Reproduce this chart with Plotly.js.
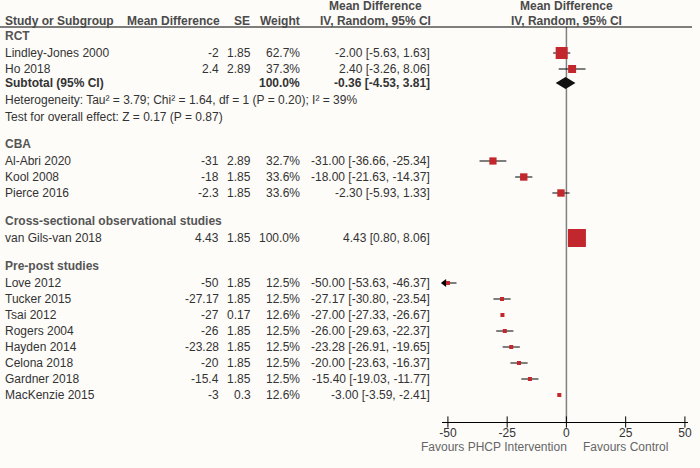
<!DOCTYPE html>
<html><head><meta charset="utf-8">
<script src="https://cdn.plot.ly/plotly-3.0.1.min.js"></script>
<style>html,body{margin:0;padding:0;background:#fdfcf9}#chart{width:700px;height:468px}</style>
</head><body><div id="chart"></div>
<script>
// ---------- data ----------
const groups = ['RCT', 'CBA', 'Cross-sectional observational studies', 'Pre-post studies'];
const studies = ['Lindley-Jones 2000', 'Ho 2018', 'Al-Abri 2020', 'Kool 2008', 'Pierce 2016',
  'van Gils-van 2018', 'Love 2012', 'Tucker 2015', 'Tsai 2012', 'Rogers 2004', 'Hayden 2014',
  'Celona 2018', 'Gardner 2018', 'MacKenzie 2015'];
const studyGroup = ['RCT', 'RCT', 'CBA', 'CBA', 'CBA', 'Cross-sectional observational studies',
  'Pre-post studies', 'Pre-post studies', 'Pre-post studies', 'Pre-post studies',
  'Pre-post studies', 'Pre-post studies', 'Pre-post studies', 'Pre-post studies'];
const meanDiff = [-2, 2.4, -31, -18, -2.3, 4.43, -50, -27.17, -27, -26, -23.28, -20, -15.4, -3];
const se = [1.85, 2.89, 2.89, 1.85, 1.85, 1.85, 1.85, 1.85, 0.17, 1.85, 1.85, 1.85, 1.85, 0.3];
const weight = [62.7, 37.3, 32.7, 33.6, 33.6, 100.0, 12.5, 12.5, 12.6, 12.5, 12.5, 12.5, 12.5, 12.6];
const ciLow = [-5.63, -3.26, -36.66, -21.63, -5.93, 0.80, -53.63, -30.80, -27.33, -29.63, -26.91, -23.63, -19.03, -3.59];
const ciHigh = [1.63, 8.06, -25.34, -14.37, 1.33, 8.06, -46.37, -23.54, -26.67, -22.37, -19.65, -16.37, -11.77, -2.41];
const subtotalGroup = 'RCT';
const subtotalEst = -0.36;
const subtotalLow = -4.53;
const subtotalHigh = 3.81;
const subtotalWeight = 100.0;
const heterogeneityText = 'Heterogeneity: Tau² = 3.79; Chi² = 1.64, df = 1 (P = 0.20); I² = 39%';
const overallEffectText = 'Test for overall effect: Z = 0.17 (P = 0.87)';
const tickVals = [-50, -25, 0, 25, 50];
const tickLabels = ['-50', '-25', '0', '25', '50'];
const favoursLeft = 'Favours PHCP Intervention';
const favoursRight = 'Favours Control';

// ---------- layout helpers ----------
const W = 700, H = 468;
const FONT = 'Arial, "Liberation Sans", sans-serif';
const AX_Y = 422;
const X_MIN = -52.5, X_MAX = 51.3;
const DOM = [442 / W, 688 / W];
const TXT = '#333', HEAD = '#4a4a4a', SEC = '#555';
const annotations = [];
function txt(text, xpx, y, anchor, color, ref) {
  annotations.push({
    text: text, x: ref === 'x' ? xpx : xpx / W, xref: ref === 'x' ? 'x' : 'paper',
    y: y, yref: 'y', xanchor: anchor, yanchor: 'middle', showarrow: false,
    font: { family: FONT, size: 12, color: color || TXT }
  });
}

// headers
txt('<b>Mean Difference</b>', 375, 6, 'center', HEAD);
txt('<b>Mean Difference</b>', 0, 6, 'center', HEAD, 'x');
txt('<b>Study or Subgroup</b>', 3, 21, 'left', HEAD);
txt('<b>Mean Difference</b>', 222, 21, 'right', HEAD);
txt('<b>SE</b>', 252, 21, 'right', HEAD);
txt('<b>Weight</b>', 302, 21, 'right', HEAD);
txt('<b>IV, Random, 95% CI</b>', 375, 21, 'center', HEAD);
txt('<b>IV, Random, 95% CI</b>', 0, 21, 'center', HEAD, 'x');

// rows
const rowY = new Array(studies.length);
let y = 36;
let subtotalY = null;
groups.forEach((g, gi) => {
  txt('<b>' + g + '</b>', 3, y, 'left', SEC);
  y += 17;
  let first = true;
  studies.forEach((s, i) => {
    if (studyGroup[i] !== g) return;
    if (!first) y += 16;
    first = false;
    rowY[i] = y;
    txt(s, 3, y, 'left');
    txt(String(meanDiff[i]), 221, y, 'right');
    txt(String(se[i]), 253, y, 'right');
    txt(weight[i].toFixed(1) + '%', 302, y, 'right');
    txt(meanDiff[i].toFixed(2) + ' [' + ciLow[i].toFixed(2) + ', ' + ciHigh[i].toFixed(2) + ']', 432, y, 'right');
  });
  let gap = 28;
  if (g === subtotalGroup) {
    y += 14; subtotalY = y;
    txt('<b>Subtotal (95% CI)</b>', 3, y, 'left');
    txt('<b>' + subtotalWeight.toFixed(1) + '%</b>', 302, y, 'right');
    txt('<b>' + subtotalEst.toFixed(2) + ' [' + subtotalLow.toFixed(2) + ', ' + subtotalHigh.toFixed(2) + ']</b>', 432, y, 'right');
    y += 17; txt(heterogeneityText, 3, y, 'left');
    y += 17; txt(overallEffectText, 3, y, 'left');
    gap = 27;
  }
  y += gap;
});
txt(favoursLeft, 569, 447, 'right', '#666');
txt(favoursRight, 581, 447, 'left', '#666');

// ---------- traces ----------
const ciX = [], ciY = [];
studies.forEach((s, i) => { ciX.push(ciLow[i], ciHigh[i], null); ciY.push(rowY[i], rowY[i], null); });
const arrowIdx = studies.map((s, i) => i).filter(i => ciLow[i] < X_MIN);
const traces = [
  { type: 'scatter', mode: 'lines', x: ciX, y: ciY, line: { color: '#000', width: 1 }, hoverinfo: 'skip' },
  { type: 'scatter', mode: 'markers', x: arrowIdx.map(() => X_MIN + 1), y: arrowIdx.map(i => rowY[i]),
    marker: { symbol: 'triangle-left', size: 7, color: '#000', opacity: 1 }, cliponaxis: false, hoverinfo: 'skip' },
  { type: 'scatter', mode: 'markers', x: meanDiff, y: rowY,
    marker: { symbol: 'square', size: weight.map(w => 2 + 0.16 * w), color: '#c1272d', opacity: 1, line: { width: 0 } },
    hoverinfo: 'skip' },
  { type: 'scatter', mode: 'lines', fill: 'toself', fillcolor: '#111',
    x: [subtotalLow, subtotalEst, subtotalHigh, subtotalEst, subtotalLow],
    y: [subtotalY, subtotalY - 6, subtotalY, subtotalY + 6, subtotalY],
    line: { width: 0, color: '#111' }, hoverinfo: 'skip' },
  { type: 'scatter', mode: 'markers', x: tickVals, y: tickVals.map(() => AX_Y),
    marker: { symbol: 'line-ns', size: 8, opacity: 1, line: { color: '#000', width: 1 } }, cliponaxis: false, hoverinfo: 'skip' }
];

const layout = {
  width: W, height: H, margin: { l: 0, r: 0, t: 0, b: 0 },
  paper_bgcolor: '#fdfcf9', plot_bgcolor: 'rgba(0,0,0,0)', showlegend: false,
  font: { family: FONT, size: 12, color: TXT },
  xaxis: {
    domain: DOM, range: [X_MIN, X_MAX], anchor: 'free', position: (H - AX_Y) / H,
    showline: true, linecolor: '#000', linewidth: 1, ticks: '',
    tickvals: tickVals, ticktext: tickLabels, tickfont: { family: FONT, size: 12, color: TXT },
    showgrid: false, zeroline: false, fixedrange: true
  },
  yaxis: { domain: [0, 1], range: [H, 0], visible: false, fixedrange: true },
  shapes: [
    { type: 'line', xref: 'paper', yref: 'y', x0: 0, x1: 692 / W, y0: 27, y1: 27, line: { color: '#000', width: 1 } },
    { type: 'line', xref: 'x', yref: 'y', x0: 0, x1: 0, y0: 27, y1: AX_Y, line: { color: '#808080', width: 1.5 }, layer: 'below' }
  ],
  annotations: annotations
};
Plotly.newPlot('chart', traces, layout, { displayModeBar: false, staticPlot: true });
</script></body></html>
